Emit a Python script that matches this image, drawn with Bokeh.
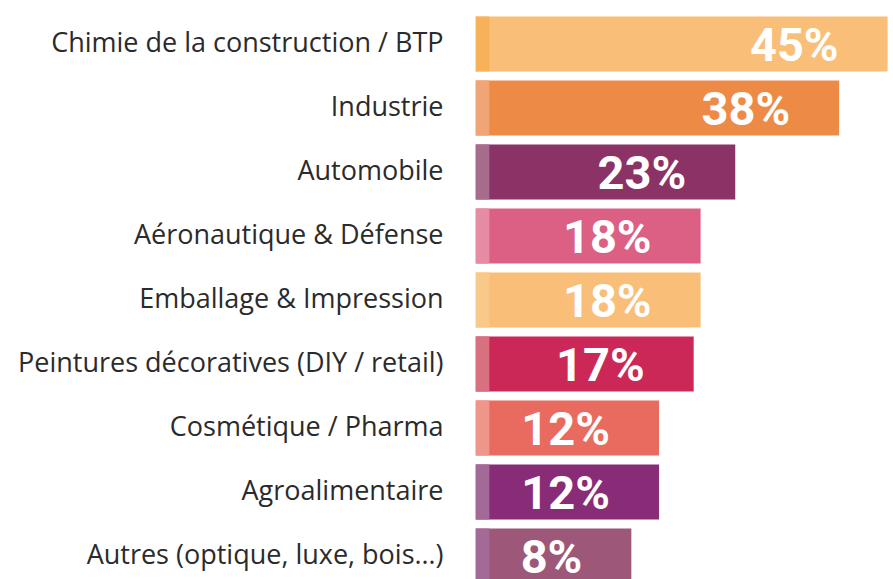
from bokeh.plotting import figure
from bokeh.models import ColumnDataSource, Range1d, FixedTicker, LinearAxis
from bokeh.core.properties import value
from bokeh.embed import file_html
from bokeh.resources import INLINE

categories = [
    "Chimie de la construction / BTP",
    "Industrie",
    "Automobile",
    "Aéronautique & Défense",
    "Emballage & Impression",
    "Peintures décoratives (DIY / retail)",
    "Cosmétique / Pharma",
    "Agroalimentaire",
    "Autres (optique, luxe, bois…)",
]
values = [45, 38, 23, 18, 18, 17, 12, 12, 8]
labels = [f"{v}%" for v in values]
colors = ["#F9BE77", "#ED8A46", "#8B3267", "#DB6083", "#F9BE77",
          "#CB2857", "#E96A5E", "#882C77", "#9D5879"]
accent_colors = ["#F7B159", "#F0A577", "#A76C8C", "#E58CA3", "#F9C98A",
                 "#D8707F", "#EE968A", "#A46A97", "#A46A97"]

baseline = -14.5
pos = list(range(len(categories)))

src = ColumnDataSource(dict(y=pos, v=values, lab=labels, c=colors, ac=accent_colors,
                            left=[baseline] * len(values),
                            aright=[baseline + 2.0] * len(values)))

y_bottom, y_top = 8.367, -0.68
shift = 3 / 64.0

p = figure(width=893, height=579, output_backend="svg", toolbar_location=None,
           x_range=Range1d(baseline, 45.85), y_range=Range1d(y_bottom, y_top),
           y_axis_location=None,
           min_border_left=475, min_border_right=0, min_border_top=0, min_border_bottom=0)
p.extra_y_ranges = {"lab": Range1d(y_bottom + shift, y_top + shift)}

p.hbar(y="y", left="left", right="v", height=0.86, fill_color="c", line_color=None, source=src)
p.hbar(y="y", left="left", right="aright", height=0.86, fill_color="ac", line_color=None, source=src)

p.text(x="v", y="y", text="lab", source=src, x_offset=-49, y_offset=0,
       text_align="right", text_baseline="middle", text_color="white",
       text_font=value("Roboto"), text_font_style="bold", text_font_size="47px")

p.xaxis.visible = False
yax = LinearAxis(y_range_name="lab")
yax.ticker = FixedTicker(ticks=pos)
yax.major_label_overrides = {i: c for i, c in enumerate(categories)}
yax.axis_line_color = None
yax.major_tick_line_color = None
yax.minor_tick_line_color = None
yax.major_tick_out = 0
yax.major_tick_in = 0
yax.major_label_standoff = 32
yax.major_label_text_font = "Open Sans"
yax.major_label_text_font_size = "27px"
yax.major_label_text_color = "#2b2b2b"
p.add_layout(yax, "left")

p.xgrid.visible = False
p.ygrid.visible = False
p.outline_line_color = None
p.background_fill_color = "white"
p.border_fill_color = "white"

open("out.html", "w").write(file_html(p, INLINE))
